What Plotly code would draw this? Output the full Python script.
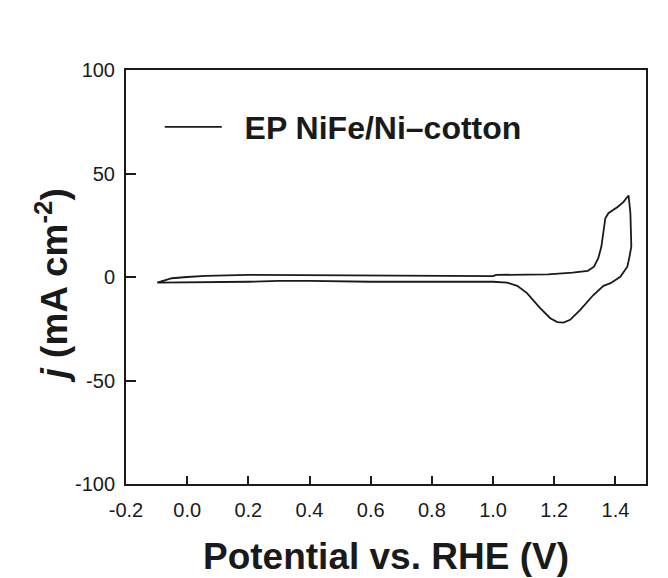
import plotly.graph_objects as go

# Forward (anodic) scan
potential_fwd = [-0.098, -0.08, -0.05, 0.0, 0.06, 0.2, 0.4, 0.6, 0.8, 1.0, 1.01,
                 1.18, 1.26, 1.31, 1.33, 1.344, 1.354, 1.361, 1.367, 1.377, 1.407,
                 1.426, 1.443]
current_fwd = [-2.7, -1.8, -0.6, 0.0, 0.5, 1.0, 0.8, 0.6, 0.5, 0.4, 1.0,
               1.3, 2.1, 3.0, 5.0, 9.1, 14.6, 22.6, 28.4, 30.8, 33.8,
               36.2, 39.4]
# Reverse (cathodic) scan
potential_rev = [1.449, 1.452, 1.446, 1.439, 1.416, 1.384, 1.361, 1.328, 1.285,
                 1.252, 1.230, 1.210, 1.187, 1.154, 1.111, 1.079, 1.046, 1.0,
                 0.8, 0.6, 0.4, 0.3, 0.2, 0.0, -0.05, -0.098]
current_rev = [30.8, 14.6, 9.8, 5.0, 0.1, -3.0, -4.3, -8.7, -15.9,
               -20.7, -22.0, -21.8, -19.9, -15.0, -7.8, -4.3, -2.7, -2.3,
               -2.3, -2.3, -1.9, -1.9, -2.3, -2.7, -2.7, -2.7]

x_ticks = [-0.2, 0.0, 0.2, 0.4, 0.6, 0.8, 1.0, 1.2, 1.4]
x_tick_labels = ["-0.2", "0.0", "0.2", "0.4", "0.6", "0.8", "1.0", "1.2", "1.4"]
y_ticks = [-100, -50, 0, 50, 100]
y_tick_labels = ["-100", "-50", "0", "50", "100"]

FONT = "Arial, 'Liberation Sans', sans-serif"
INK = "#1a1a1a"

fig = go.Figure()
fig.add_trace(go.Scatter(
    x=potential_fwd + potential_rev,
    y=current_fwd + current_rev,
    mode="lines",
    name="\u00a0\u00a0<b>EP NiFe/Ni–cotton</b>",
    line=dict(color=INK, width=1.8),
))

axis_common = dict(
    showline=True, linecolor=INK, linewidth=2, mirror=True,
    ticks="inside", tickcolor=INK, tickwidth=2,
    showgrid=False, zeroline=False,
    tickfont=dict(family=FONT, size=20, color=INK),
)

fig.update_layout(
    width=660, height=570,
    margin=dict(l=118, r=22, t=62, b=94, autoexpand=False),
    paper_bgcolor="white", plot_bgcolor="white",
    showlegend=True,
    legend=dict(
        x=0.065, y=0.862, xanchor="left", yanchor="middle",
        font=dict(family=FONT, size=32, color=INK),
        itemwidth=57, bgcolor="rgba(255,255,255,0)",
    ),
    xaxis=dict(
        range=[-0.2, 1.5], tickvals=x_ticks, ticktext=x_tick_labels,
        ticklen=8, ticklabelstandoff=7,
        title=dict(text="<b>Potential vs. RHE (V)</b>",
                   font=dict(family=FONT, size=37, color=INK), standoff=23),
        **axis_common,
    ),
    yaxis=dict(
        range=[-100, 100], tickvals=y_ticks, ticktext=y_tick_labels,
        ticklen=10, ticklabelstandoff=5,
        **axis_common,
    ),
    annotations=[dict(
        text="<b><i>j</i> (mA cm<sup>-2</sup>)</b>",
        xref="paper", yref="paper", x=-0.142, y=0.48,
        xanchor="center", yanchor="middle", textangle=-90,
        showarrow=False, font=dict(family=FONT, size=37, color=INK),
    )],
)

fig.write_html("out.html")
